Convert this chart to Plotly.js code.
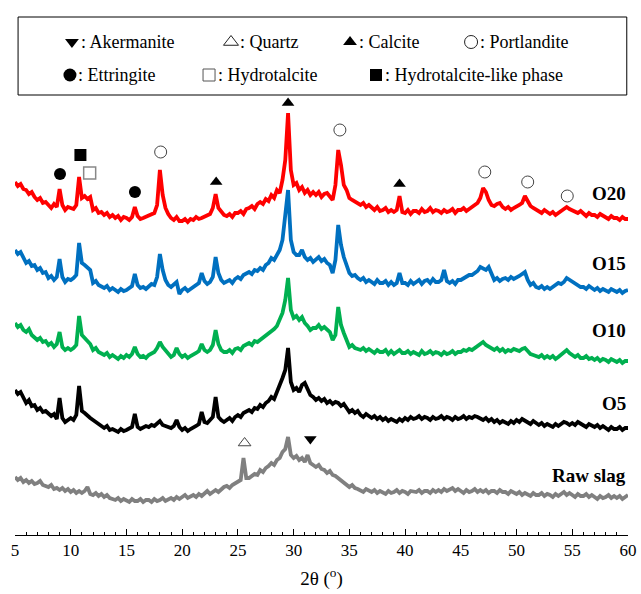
<!DOCTYPE html>
<html>
<head>
<meta charset="utf-8">
<script src="https://cdn.plot.ly/plotly-3.0.1.min.js"></script>
<style>html,body{margin:0;padding:0;background:#fff;}#chart{width:641px;height:594px;}</style>
</head>
<body>
<div id="chart"></div>
<script>
// 2θ grid (degrees)
const twoTheta = [
5,5.25,5.5,5.75,6,6.25,6.5,6.75,7,7.25,7.5,7.75,8,8.25,8.5,8.75,9,9.25,9.5,9.75,
10,10.25,10.5,10.75,11,11.25,11.5,11.75,12,12.25,12.5,12.75,13,13.25,13.5,13.75,14,14.25,14.5,14.75,
15,15.25,15.5,15.75,16,16.25,16.5,16.75,17,17.25,17.5,17.75,18,18.25,18.5,18.75,19,19.25,19.5,19.75,
20,20.25,20.5,20.75,21,21.25,21.5,21.75,22,22.25,22.5,22.75,23,23.25,23.5,23.75,24,24.25,24.5,24.75,
25,25.25,25.5,25.75,26,26.25,26.5,26.75,27,27.25,27.5,27.75,28,28.25,28.5,28.75,29,29.25,29.5,29.75,
30,30.25,30.5,30.75,31,31.25,31.5,31.75,32,32.25,32.5,32.75,33,33.25,33.5,33.75,34,34.25,34.5,34.75,
35,35.25,35.5,35.75,36,36.25,36.5,36.75,37,37.25,37.5,37.75,38,38.25,38.5,38.75,39,39.25,39.5,39.75,
40,40.25,40.5,40.75,41,41.25,41.5,41.75,42,42.25,42.5,42.75,43,43.25,43.5,43.75,44,44.25,44.5,44.75,
45,45.25,45.5,45.75,46,46.25,46.5,46.75,47,47.25,47.5,47.75,48,48.25,48.5,48.75,49,49.25,49.5,49.75,
50,50.25,50.5,50.75,51,51.25,51.5,51.75,52,52.25,52.5,52.75,53,53.25,53.5,53.75,54,54.25,54.5,54.75,
55,55.25,55.5,55.75,56,56.25,56.5,56.75,57,57.25,57.5,57.75,58,58.25,58.5,58.75,59,59.25,59.5,59.75,
60];

// Stacked intensities (a.u.)
const o20 = [
353,349,351,346, 345,341,343,338, 335,337,332,333, 330,327,331,328, 346,330,325,328,
327,326,330,358, 337,339,336,338, 325,327,322,323, 320,322,318,320, 317,319,315,318,
317,315,318,328, 319,316,317,318, 319,321,322,330, 365,340,327,321, 317,315,318,314,
314,316,313,316, 315,318,316,317, 318,320,321,327, 341,327,323,320, 319,321,318,322,
322,324,321,326, 327,329,326,331, 333,331,336,334, 340,337,345,342, 355,375,422,365,
350,352,345,348, 342,345,340,343, 340,343,338,341, 342,339,335,350, 385,370,350,345,
337,335,333,331, 330,332,328,330, 327,325,328,324, 325,327,323,325, 323,325,339,323,
322,325,321,324, 324,322,326,323, 324,327,323,325, 324,322,325,323, 324,326,322,325,
325,327,324,326, 328,330,332,337, 347,343,335,330, 329,331,332,328, 326,328,325,327,
328,330,332,339, 334,329,327,325, 324,322,325,323, 321,323,320,322, 324,326,328,326,
325,323,322,324, 321,319,322,320, 320,318,321,319, 318,316,319,317, 317,315,318,316,
316];

const o15 = [
285,281,283,277, 272,274,269,270, 265,267,262,263, 257,259,255,258, 276,258,253,256,
255,257,260,292, 272,270,268,265, 252,254,250,249, 247,249,245,247, 245,243,246,244,
245,247,249,261, 250,247,248,246, 249,251,250,258, 281,265,255,250, 248,250,253,241,
245,247,244,246, 248,250,252,262, 254,251,253,258, 278,262,255,252, 253,255,252,256,
258,256,260,261, 263,261,265,264, 267,265,270,272, 277,275,280,285, 295,320,345,295,
283,280,280,285, 278,275,277,273, 275,278,274,276, 272,270,262,275, 310,290,278,270,
262,259,260,257, 255,257,253,255, 253,251,255,252, 252,254,250,253, 250,252,262,252,
252,250,254,251, 253,255,251,254, 255,252,256,253, 253,255,265,254, 252,254,251,255,
255,257,258,260, 260,262,264,268, 267,265,268,262, 255,257,254,256, 257,255,258,256,
257,259,261,263, 255,250,252,248, 247,249,246,248, 246,248,250,252, 251,253,257,255,
253,251,250,248, 248,246,249,247, 245,247,244,246, 245,243,246,244, 243,245,242,244,
245];

const o10 = [
212,208,210,205, 203,206,200,198, 195,197,193,194, 190,192,188,191, 203,188,185,187,
185,187,190,219, 200,197,194,191, 185,187,183,182, 180,182,178,180, 178,176,179,177,
180,178,181,188, 181,178,179,177, 180,182,183,187, 193,188,185,182, 178,180,187,181,
178,180,177,179, 180,182,184,191, 185,183,185,190, 205,191,185,183, 183,185,182,186,
187,185,189,190, 192,190,194,193, 195,197,199,201, 203,206,209,215, 222,235,257,225,
217,219,215,218, 212,209,205,207, 207,210,206,208, 205,203,195,200, 228,210,202,195,
188,190,187,186, 185,187,184,186, 184,182,185,183, 183,185,181,184, 181,183,185,182,
182,184,181,183, 182,180,184,181, 182,184,181,183, 182,180,183,181, 182,184,181,183,
183,185,184,186, 185,187,189,191, 193,190,188,186, 185,187,184,186, 183,185,184,186,
185,184,186,187, 184,181,180,179, 178,180,177,179, 177,179,176,178, 180,182,185,182,
180,178,180,177, 177,179,176,177, 175,177,174,176, 175,173,176,174, 173,175,172,174,
174];

const o5 = [
145,141,143,137, 132,135,129,130, 125,127,123,124, 122,119,121,116, 137,117,113,115,
117,115,120,149, 124,122,119,117, 115,113,111,110, 107,109,105,106, 105,103,106,104,
105,107,108,121, 108,106,107,109, 108,110,109,111, 114,110,109,107, 107,109,115,108,
105,107,104,106, 107,109,111,123, 113,112,115,118, 138,118,115,113, 115,117,114,118,
120,118,122,123, 125,123,127,126, 130,128,132,134, 138,136,142,150, 157,165,187,153,
145,147,143,150, 152,145,140,138, 135,137,134,136, 132,134,131,133, 132,129,131,127,
123,125,122,124, 120,118,121,119, 117,119,116,118, 115,117,114,116, 115,113,116,114,
117,115,118,116, 117,119,116,118, 117,115,118,116, 117,119,116,118, 117,115,118,116,
117,119,116,118, 117,119,118,116, 115,117,114,116, 113,115,112,114, 113,111,114,112,
115,113,116,114, 113,111,114,112, 110,112,109,111, 110,108,111,109, 111,113,112,110,
112,110,113,111, 110,108,111,109, 108,110,107,109, 107,105,108,106, 106,108,105,107,
107];

const rawSlag = [
58,55,57,53, 55,52,54,51, 52,54,50,49, 48,50,46,47, 45,47,44,46,
43,45,42,44, 42,44,48,41, 40,42,39,41, 38,40,37,36, 35,37,34,36,
35,33,36,34, 34,36,33,35, 35,33,36,34, 35,37,34,36, 37,35,38,36,
38,40,37,39, 40,38,41,39, 42,44,41,43, 45,43,46,48, 49,47,50,52,
53,55,77,57, 57,59,61,60, 65,63,67,69, 72,70,75,77, 83,86,98,80,
77,79,75,77, 73,80,72,70, 68,70,66,65, 62,64,60,59, 57,55,53,51,
48,50,47,46, 45,43,46,44, 43,45,42,44, 43,41,44,42, 43,45,42,44,
43,41,44,43, 43,45,42,44, 44,42,45,43, 45,43,46,44, 45,47,44,46,
44,42,45,43, 44,46,43,45, 43,45,42,44, 44,42,45,43, 43,41,44,42,
41,43,40,42, 41,39,42,40, 40,42,39,41, 40,38,41,39, 41,43,40,42,
40,38,41,39, 39,41,38,40, 38,36,39,37, 38,40,37,39, 37,39,36,38,
40];

const seriesNames = ["O20", "O15", "O10", "O5", "Raw slag"];
const seriesColors = ["#FF0000", "#0070C0", "#00B050", "#000000", "#808080"];
const seriesData = [o20, o15, o10, o5, rawSlag];
const seriesLabelY = [342, 272, 205, 132, 60];

// Phase marker positions (2θ, height)
const ettringiteX = [9.04, 15.76], ettringiteY = [361, 343];
const hydLikeX = [10.87], hydLikeY = [380];
const hydrotalciteX = [11.7], hydrotalciteY = [362];
const portlanditeX = [18.07, 34.15, 47.15, 51.0, 54.55], portlanditeY = [383, 405, 363, 353, 339];
const calciteX = [23.05, 29.5, 39.5], calciteY = [353, 432, 351];
const quartzX = [25.6], quartzY = [92];
const akermaniteX = [31.5], akermaniteY = [96];

// Key (legend box) entries
const keyLabels = [": Akermanite", ": Quartz", ": Calcite", ": Portlandite", ": Ettringite", ": Hydrotalcite", ": Hydrotalcite-like phase"];
const keySymX = [10.11, 24.38, 35.06, 45.92, 9.93, 22.41, 37.39];
const keyTextX = [10.7, 24.98, 35.66, 46.52, 10.5, 23.0, 37.98];
const keyY = [493, 493, 493, 493, 460, 460, 460];

const FONT = "Liberation Serif";

const traces = [];
seriesData.forEach((d, i) => {
  traces.push({x: twoTheta, y: d, type: "scatter", mode: "lines",
    line: {color: seriesColors[i], width: 3.8}, hoverinfo: "skip", showlegend: false});
});

function mk(x, y, symbol, color, size, lineColor, lineWidth) {
  return {x: x, y: y, type: "scatter", mode: "markers", cliponaxis: false, showlegend: false,
    marker: {symbol: symbol, color: color, size: size, line: {color: lineColor || color, width: lineWidth || 0}}};
}
traces.push(mk(ettringiteX, ettringiteY, "circle", "#000", 12));
traces.push(mk(hydLikeX, hydLikeY, "square", "#000", 12));
traces.push(mk(hydrotalciteX, hydrotalciteY, "square-open", "#888", 12, "#888", 1.5));
traces.push(mk(portlanditeX, portlanditeY, "circle-open", "#444", 12, "#444", 1));
traces.push(mk(calciteX, calciteY, "triangle-up", "#000", 11));
traces.push(mk(quartzX, quartzY, "triangle-up-open", "#444", 11, "#444", 1));
traces.push(mk(akermaniteX, akermaniteY, "triangle-down", "#000", 11));

// key symbols
traces.push(mk([keySymX[0]], [keyY[0]], "triangle-down", "#000", 12));
traces.push(mk([keySymX[1]], [keyY[1]], "triangle-up-open", "#222", 13, "#222", 1));
traces.push(mk([keySymX[2]], [keyY[2]], "triangle-up", "#000", 12));
traces.push(mk([keySymX[3]], [keyY[3]], "circle-open", "#222", 13, "#222", 1));
traces.push(mk([keySymX[4]], [keyY[4]], "circle", "#000", 13));
traces.push(mk([keySymX[5]], [keyY[5]], "square-open", "#555", 12, "#555", 1));
traces.push(mk([keySymX[6]], [keyY[6]], "square", "#000", 12));

const annotations = [];
keyLabels.forEach((t, i) => {
  annotations.push({x: keyTextX[i], y: keyY[i], xref: "x", yref: "y", text: t, showarrow: false,
    xanchor: "left", yanchor: "middle", font: {family: FONT, size: 18, color: "#000"}});
});
seriesNames.forEach((n, i) => {
  annotations.push({x: 60, y: seriesLabelY[i], xref: "x", yref: "y", text: "<b>" + n + "</b>", showarrow: false,
    xanchor: "right", yanchor: "middle", font: {family: FONT, size: 19, color: "#000"}});
});

const layout = {
  width: 641, height: 594,
  margin: {l: 15, r: 13, t: 10, b: 59},
  paper_bgcolor: "#fff", plot_bgcolor: "#fff",
  showlegend: false,
  font: {family: FONT, color: "#000"},
  xaxis: {
    range: [5, 60], dtick: 5, tick0: 5, ticks: "inside", ticklen: 6, tickwidth: 1, tickcolor: "#000",
    minor: {dtick: 1, ticks: "inside", ticklen: 3, tickcolor: "#000", tickwidth: 1, showgrid: false},
    showline: true, linecolor: "#000", linewidth: 1, showgrid: false, zeroline: false,
    tickfont: {family: FONT, size: 17, color: "#000"},
    title: {text: "2θ (<sup>o</sup>)", font: {family: FONT, size: 19, color: "#000"}, standoff: 12}
  },
  yaxis: {range: [0, 525], visible: false, fixedrange: true},
  shapes: [{type: "rect", xref: "paper", yref: "y", x0: 0.005, x1: 0.998, y0: 440, y1: 518,
    line: {color: "#000", width: 1}, fillcolor: "rgba(0,0,0,0)"}],
  annotations: annotations
};

Plotly.newPlot("chart", traces, layout, {displayModeBar: false, staticPlot: true});
</script>
</body>
</html>
